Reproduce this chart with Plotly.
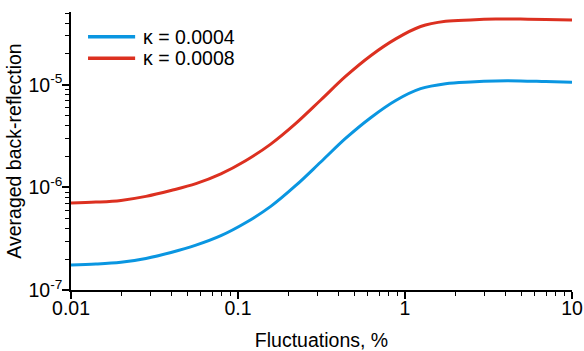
import plotly.graph_objects as go

# Fluctuation level (%) sampled on a roughly log-uniform grid
fluct = [0.01, 0.0141, 0.0199, 0.0281, 0.0397, 0.056, 0.079, 0.111, 0.157, 0.222,
         0.313, 0.442, 0.623, 0.88, 1.24, 1.75, 2.47, 3.49, 4.92, 6.95, 10]

# Averaged back-reflection for kappa = 0.0004
refl_k0004 = [1.752e-7, 1.788e-7, 1.862e-7, 2.032e-7, 2.320e-7, 2.734e-7, 3.382e-7,
              4.518e-7, 6.528e-7, 1.044e-6, 1.768e-6, 3.017e-6, 4.778e-6, 7.031e-6,
              9.162e-6, 1.025e-5, 1.067e-5, 1.091e-5, 1.091e-5, 1.074e-5, 1.058e-5]

# Averaged back-reflection for kappa = 0.0008
refl_k0008 = [7.047e-7, 7.191e-7, 7.471e-7, 8.172e-7, 9.328e-7, 1.087e-6, 1.354e-6,
              1.817e-6, 2.642e-6, 4.205e-6, 7.110e-6, 1.213e-5, 1.921e-5, 2.802e-5,
              3.701e-5, 4.157e-5, 4.290e-5, 4.368e-5, 4.368e-5, 4.329e-5, 4.280e-5]

series_names = ["\u03ba = 0.0004", "\u03ba = 0.0008"]
series_colors = ["#0a96e1", "#dc3020"]

x_ticks = [0.01, 0.1, 1, 10]
x_ticktext = ["0.01", "0.1", "1", "10"]
y_ticks = [1e-7, 1e-6, 1e-5]
y_ticktext = ["10<sup>-7</sup>", "10<sup>-6</sup>", "10<sup>-5</sup>"]

font_family = "Liberation Sans, Arial, sans-serif"
font_size = 19.5

fig = go.Figure()
for ys, name, color in [(refl_k0004, series_names[0], series_colors[0]),
                        (refl_k0008, series_names[1], series_colors[1])]:
    fig.add_trace(go.Scatter(x=fluct, y=ys, mode="lines", name=name, showlegend=False,
                             line=dict(color=color, width=3, shape="spline", smoothing=1.0)))

# Legend drawn as line swatches plus labels in the upper-left corner
legend_rows = [0.911, 0.8335]
for row_y, name, color in zip(legend_rows, series_names, series_colors):
    fig.add_shape(type="line", xref="paper", yref="paper",
                  x0=0.034, x1=0.128, y0=row_y, y1=row_y,
                  line=dict(color=color, width=3.5))
    fig.add_annotation(xref="paper", yref="paper", x=0.139, y=row_y,
                       xanchor="left", yanchor="middle", showarrow=False,
                       text=name, font=dict(family=font_family, size=font_size, color="black"))

axis_common = dict(
    type="log", showgrid=False, zeroline=False, showline=True, automargin=False,
    linecolor="black", linewidth=1.6, ticks="outside", ticklen=7, tickwidth=1.6,
    tickcolor="black", mirror=False,
    minor=dict(ticks="outside", ticklen=4, tickwidth=1.3, tickcolor="black",
               dtick="D1", showgrid=False),
    tickfont=dict(family=font_family, size=font_size, color="black"),
)

fig.update_layout(
    width=584, height=351,
    margin=dict(l=71, r=12, t=12, b=61),
    paper_bgcolor="white", plot_bgcolor="white",
    font=dict(family=font_family, size=font_size, color="black"),
    xaxis=dict(range=[-2, 1], tickvals=x_ticks, ticktext=x_ticktext,
               ticklabelstandoff=-7,
               title=dict(text="Fluctuations, %", standoff=16,
                          font=dict(family=font_family, size=font_size)),
               **axis_common),
    yaxis=dict(range=[-7, -4.2904], tickvals=y_ticks, ticktext=y_ticktext,
               ticklabelstandoff=-4,
               title=dict(text="Averaged back-reflection", standoff=2,
                          font=dict(family=font_family, size=font_size)),
               **axis_common),
    showlegend=False,
)

fig.write_html("out.html")
